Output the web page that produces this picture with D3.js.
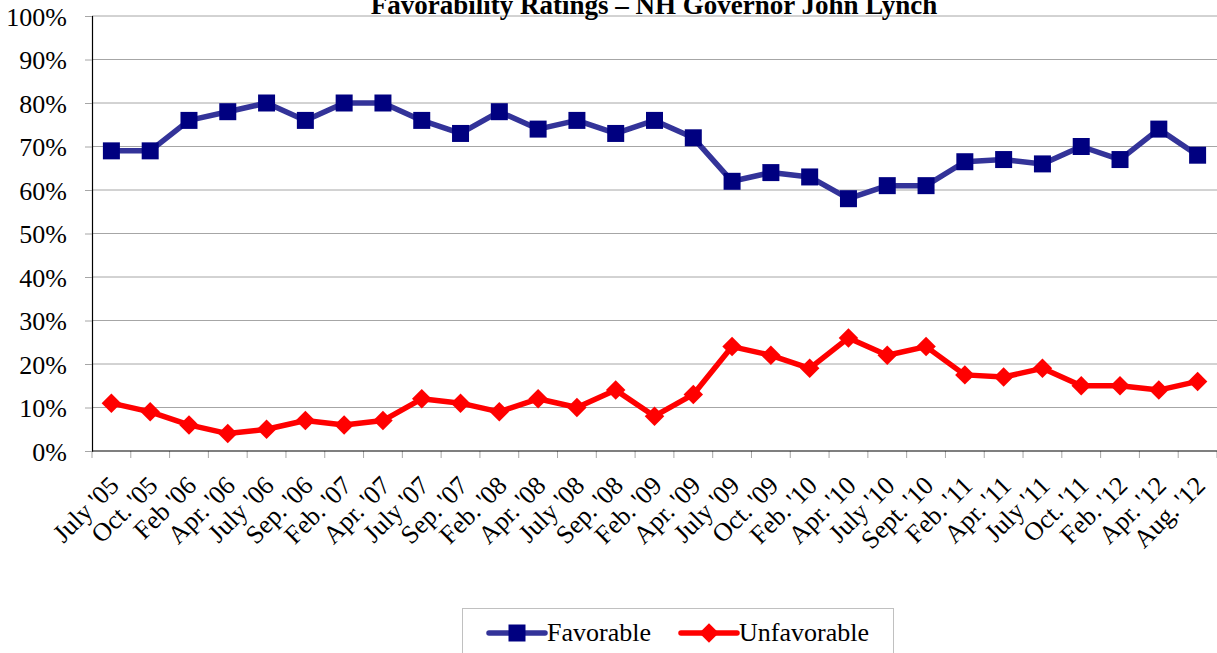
<!DOCTYPE html>
<html>
<head>
<meta charset="utf-8">
<script src="https://cdn.jsdelivr.net/npm/d3@7"></script>
<style>
    body { margin: 0; background: #fff; }
    svg { display: block; font-family: "Liberation Serif", "Times New Roman", serif; }
</style>
</head>
<body>
<div id="chart"></div>
<script>
// data
var categories = ["July '05", "Oct. '05", "Feb '06", "Apr. '06", "July '06", "Sep. '06",
    "Feb. '07", "Apr. '07", "July '07", "Sep. '07", "Feb. '08", "Apr. '08", "July '08",
    "Sep. '08", "Feb. '09", "Apr. '09", "July '09", "Oct. '09", "Feb. '10", "Apr. '10",
    "July '10", "Sept. '10", "Feb. '11", "Apr. '11", "July '11", "Oct. '11", "Feb. '12",
    "Apr. '12", "Aug. '12"];
var favorable = [69, 69, 76, 78, 80, 76, 80, 80, 76, 73, 78, 74, 76, 73, 76, 72, 62, 64,
    63, 58, 61, 61, 66.5, 67, 66, 70, 67, 74, 68];
var unfavorable = [11, 9, 6, 4, 5, 7, 6, 7, 12, 11, 9, 12, 10, 14, 8, 13, 24, 22, 19, 26,
    22, 24, 17.5, 17, 19, 15, 15, 14, 16];
var yTicks = [0, 10, 20, 30, 40, 50, 60, 70, 80, 90, 100];
var seriesNames = ['Favorable', 'Unfavorable'];

function buildChart(containerId) {
    // size globals
    var width = 1217;
    var height = 653;
    var plotLeft = 92;
    var plotRight = 1217;
    var plotTop = 16;
    var plotBottom = 451;

    var svg = d3
        .select(containerId)
        .append('svg')
        .attr('width', width)
        .attr('height', height);

    var x = d3.scaleBand()
        .domain(categories)
        .range([plotLeft, plotRight]);

    var y = d3.scaleLinear()
        .domain([0, 100])
        .range([plotBottom, plotTop]);

    // gridlines
    svg.append('g')
        .selectAll('line')
        .data(yTicks.filter(d => d > 0))
        .enter()
        .append('line')
        .attr('x1', plotLeft)
        .attr('x2', plotRight)
        .attr('y1', d => y(d))
        .attr('y2', d => y(d))
        .style('stroke', '#a6a6a6')
        .style('stroke-width', 1);

    // y axis
    var yAxis = d3.axisLeft(y)
        .tickValues(yTicks)
        .tickSize(7)
        .tickPadding(18)
        .tickFormat(d => d + '%');

    var yG = svg.append('g')
        .attr('transform', 'translate(' + plotLeft + ',0)')
        .call(yAxis);
    yG.select('.domain').style('stroke', '#000').style('stroke-width', 1.2);
    yG.selectAll('.tick line').style('stroke', '#a6a6a6');
    yG.selectAll('.tick text')
        .style('font-family', '"Liberation Serif", serif')
        .style('font-size', '26px')
        .style('fill', '#000')
        .attr('dy', '0.36em');

    // x axis ticks at band edges
    var edges = categories.map(d => x(d)).concat([plotRight]);
    svg.append('g')
        .selectAll('line')
        .data(edges)
        .enter()
        .append('line')
        .attr('x1', d => d)
        .attr('x2', d => d)
        .attr('y1', plotBottom)
        .attr('y2', plotBottom + 7)
        .style('stroke', '#a6a6a6');

    svg.append('line')
        .attr('x1', plotLeft)
        .attr('x2', plotRight)
        .attr('y1', plotBottom)
        .attr('y2', plotBottom)
        .style('stroke', '#000')
        .style('stroke-width', 1.2);

    // x labels, rotated
    svg.append('g')
        .selectAll('text')
        .data(categories)
        .enter()
        .append('text')
        .attr('transform', d => 'translate(' + (x(d) + x.bandwidth() / 2 + 9) + ',' + (plotBottom + 36) + ') rotate(-45)')
        .attr('text-anchor', 'end')
        .style('font-size', '26px')
        .style('fill', '#000')
        .text(d => d);

    // title
    svg.append('text')
        .attr('x', 654)
        .attr('y', 14)
        .attr('text-anchor', 'middle')
        .style('font-size', '27px')
        .style('font-weight', 'bold')
        .text('Favorability Ratings \u2013 NH Governor John Lynch');

    var cx = d => x(d) + x.bandwidth() / 2;

    var line = d3.line()
        .x((d, i) => cx(categories[i]))
        .y(d => y(d));

    var square = d3.symbol().type(d3.symbolSquare).size(289);
    var diamond = d3.symbol().type(d3.symbolDiamond2).size(242);

    // favorable series
    svg.append('path')
        .datum(favorable)
        .attr('d', line)
        .style('fill', 'none')
        .style('stroke', '#333399')
        .style('stroke-width', 5.5)
        .style('stroke-linejoin', 'round');

    svg.append('g')
        .selectAll('path')
        .data(favorable)
        .enter()
        .append('path')
        .attr('d', square)
        .attr('transform', (d, i) => 'translate(' + cx(categories[i]) + ',' + y(d) + ')')
        .style('fill', '#000080');

    // unfavorable series
    svg.append('path')
        .datum(unfavorable)
        .attr('d', line)
        .style('fill', 'none')
        .style('stroke', '#ff0000')
        .style('stroke-width', 5.5)
        .style('stroke-linejoin', 'round');

    svg.append('g')
        .selectAll('path')
        .data(unfavorable)
        .enter()
        .append('path')
        .attr('d', diamond)
        .attr('transform', (d, i) => 'translate(' + cx(categories[i]) + ',' + y(d) + ')')
        .style('fill', '#ff0000');

    // legend
    var legend = svg.append('g');

    legend.append('rect')
        .attr('x', 462.5)
        .attr('y', 608.5)
        .attr('width', 431)
        .attr('height', 60)
        .style('fill', '#fff')
        .style('stroke', '#c0c0c0');

    var legendItems = [
        { name: seriesNames[0], x: 489, color: '#333399', marker: '#000080', sym: square },
        { name: seriesNames[1], x: 681, color: '#ff0000', marker: '#ff0000', sym: diamond }
    ];

    var item = legend.selectAll('.item')
        .data(legendItems)
        .enter()
        .append('g')
        .attr('class', 'item')
        .attr('transform', d => 'translate(' + d.x + ',633)');

    item.append('line')
        .attr('x1', 0)
        .attr('x2', 56)
        .style('stroke', d => d.color)
        .style('stroke-width', 5.5)
        .style('stroke-linecap', 'round');

    item.append('path')
        .attr('d', d => d.sym())
        .attr('transform', 'translate(28,0)')
        .style('fill', d => d.marker);

    item.append('text')
        .attr('x', 58)
        .attr('y', 8)
        .style('font-size', '26px')
        .style('fill', '#000')
        .text(d => d.name);
}

buildChart('#chart');
</script>
</body>
</html>
